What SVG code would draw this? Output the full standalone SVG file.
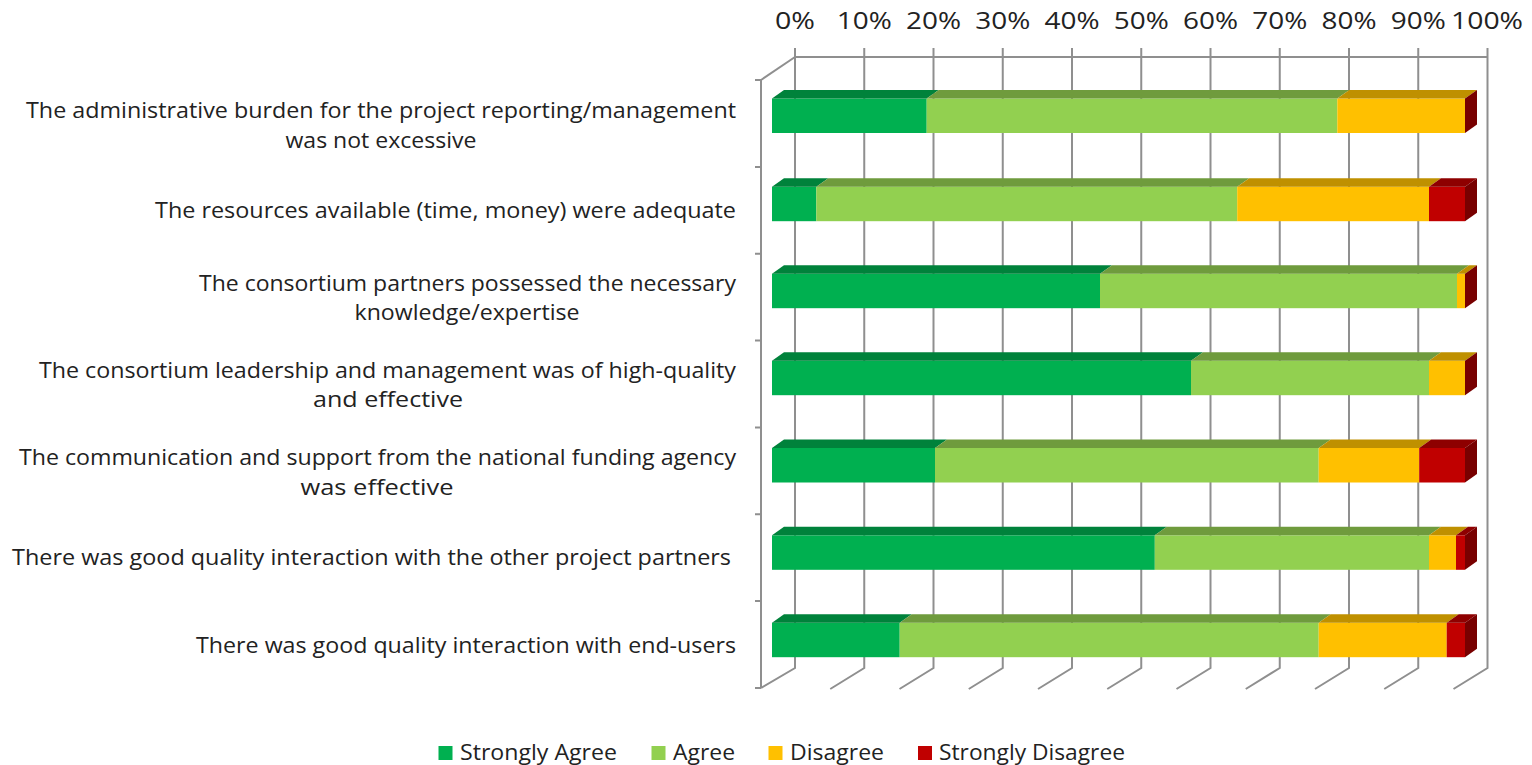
<svg xmlns="http://www.w3.org/2000/svg" width="1532" height="765" viewBox="0 0 1532 765">
<style>
.grid{stroke:#8f8f8f;stroke-width:2;fill:none}
.lbl{font-family:"Open Sans","Liberation Sans",sans-serif;font-size:21px;fill:#222}
.ax{font-family:"Open Sans","Liberation Sans",sans-serif;font-size:23px;fill:#222;text-anchor:middle}
.sa{fill:#00B050}.sat{fill:#00823B}
.ag{fill:#92D050}.agt{fill:#6F9B3D}
.di{fill:#FFC000}.dit{fill:#BF9000}
.sd{fill:#C00000}.sdt{fill:#8E0000}.sds{fill:#780000}
</style>
<rect width="1532" height="765" fill="#fff"/>
<g id="axes" class="grid">
<line x1="795" y1="57" x2="1487.5" y2="57"/>
<line x1="795" y1="57" x2="761" y2="80"/>
<line x1="761" y1="80" x2="761" y2="688"/>
<path d="M795 48V668L761 688M864.25 48V668L830.25 689M933.5 48V668L899.5 689M1002.75 48V668L968.75 689M1072 48V668L1038 689M1141.25 48V668L1107.25 689M1210.5 48V668L1176.5 689M1279.75 48V668L1245.75 689M1349 48V668L1315 689M1418.25 48V668L1384.25 689M1487.5 48V668L1453.5 689"/>
<path d="M755 80H761M755 166.9H761M755 253.7H761M755 340.6H761M755 427.4H761M755 514.3H761M755 601.1H761M755 688H761"/>
</g>
<g id="axis-labels">
<text class="ax" x="795" y="29" textLength="40" lengthAdjust="spacingAndGlyphs">0%</text>
<text class="ax" x="864.25" y="29" textLength="55" lengthAdjust="spacingAndGlyphs">10%</text>
<text class="ax" x="933.5" y="29" textLength="55" lengthAdjust="spacingAndGlyphs">20%</text>
<text class="ax" x="1002.75" y="29" textLength="55" lengthAdjust="spacingAndGlyphs">30%</text>
<text class="ax" x="1072" y="29" textLength="55" lengthAdjust="spacingAndGlyphs">40%</text>
<text class="ax" x="1141.25" y="29" textLength="55" lengthAdjust="spacingAndGlyphs">50%</text>
<text class="ax" x="1210.5" y="29" textLength="55" lengthAdjust="spacingAndGlyphs">60%</text>
<text class="ax" x="1279.75" y="29" textLength="55" lengthAdjust="spacingAndGlyphs">70%</text>
<text class="ax" x="1349" y="29" textLength="55" lengthAdjust="spacingAndGlyphs">80%</text>
<text class="ax" x="1418.25" y="29" textLength="55" lengthAdjust="spacingAndGlyphs">90%</text>
<text class="ax" x="1487" y="29" textLength="72" lengthAdjust="spacingAndGlyphs">100%</text>
</g>
<g id="category-labels" class="lbl">
<text x="736" y="117.5" text-anchor="end" textLength="710" lengthAdjust="spacingAndGlyphs">The administrative burden for the project reporting/management</text>
<text x="381" y="147.5" text-anchor="middle" textLength="191" lengthAdjust="spacingAndGlyphs">was not excessive</text>
<text x="736" y="218" text-anchor="end" textLength="581" lengthAdjust="spacingAndGlyphs">The resources available (time, money) were adequate</text>
<text x="736" y="291" text-anchor="end" textLength="537" lengthAdjust="spacingAndGlyphs">The consortium partners possessed the necessary</text>
<text x="467" y="320" text-anchor="middle" textLength="225" lengthAdjust="spacingAndGlyphs">knowledge/expertise</text>
<text x="736" y="378" text-anchor="end" textLength="697" lengthAdjust="spacingAndGlyphs">The consortium leadership and management was of high-quality</text>
<text x="388" y="407" text-anchor="middle" textLength="150" lengthAdjust="spacingAndGlyphs">and effective</text>
<text x="736" y="465" text-anchor="end" textLength="717" lengthAdjust="spacingAndGlyphs">The communication and support from the national funding agency</text>
<text x="377" y="495" text-anchor="middle" textLength="153" lengthAdjust="spacingAndGlyphs">was effective</text>
<text x="731" y="565" text-anchor="end" textLength="719" lengthAdjust="spacingAndGlyphs">There was good quality interaction with the other project partners</text>
<text x="736" y="653" text-anchor="end" textLength="540" lengthAdjust="spacingAndGlyphs">There was good quality interaction with end-users</text>
</g>
<g id="bar1">
<rect class="sa" x="772" y="98.5" width="154.7" height="34.5"/>
<rect class="ag" x="926.7" y="98.5" width="410.6" height="34.5"/>
<rect class="di" x="1337.3" y="98.5" width="127.7" height="34.5"/>
<polygon class="sat" points="772,98.5 926.7,98.5 938.7,90 784,90"/>
<polygon class="agt" points="926.7,98.5 1337.3,98.5 1349.3,90 938.7,90"/>
<polygon class="dit" points="1337.3,98.5 1465,98.5 1477,90 1349.3,90"/>
<polygon class="sds" points="1465,98.5 1477,90 1477,124.5 1465,133"/>
</g>
<g id="bar2">
<rect class="sa" x="772" y="186.7" width="44.3" height="34.5"/>
<rect class="ag" x="816.3" y="186.7" width="420.9" height="34.5"/>
<rect class="di" x="1237.2" y="186.7" width="191.8" height="34.5"/>
<rect class="sd" x="1429" y="186.7" width="36" height="34.5"/>
<polygon class="sat" points="772,186.7 816.3,186.7 828.3,178.2 784,178.2"/>
<polygon class="agt" points="816.3,186.7 1237.2,186.7 1249.2,178.2 828.3,178.2"/>
<polygon class="dit" points="1237.2,186.7 1429,186.7 1441,178.2 1249.2,178.2"/>
<polygon class="sdt" points="1429,186.7 1465,186.7 1477,178.2 1441,178.2"/>
<polygon class="sds" points="1465,186.7 1477,178.2 1477,212.7 1465,221.2"/>
</g>
<g id="bar3">
<rect class="sa" x="772" y="273.7" width="328" height="34.5"/>
<rect class="ag" x="1100" y="273.7" width="357" height="34.5"/>
<rect class="di" x="1457" y="273.7" width="8" height="34.5"/>
<polygon class="sat" points="772,273.7 1100,273.7 1112,265.2 784,265.2"/>
<polygon class="agt" points="1100,273.7 1457,273.7 1469,265.2 1112,265.2"/>
<polygon class="dit" points="1457,273.7 1465,273.7 1477,265.2 1469,265.2"/>
<polygon class="sds" points="1465,273.7 1477,265.2 1477,299.7 1465,308.2"/>
</g>
<g id="bar4">
<rect class="sa" x="772" y="360.7" width="419" height="34.5"/>
<rect class="ag" x="1191" y="360.7" width="238" height="34.5"/>
<rect class="di" x="1429" y="360.7" width="36" height="34.5"/>
<polygon class="sat" points="772,360.7 1191,360.7 1203,352.2 784,352.2"/>
<polygon class="agt" points="1191,360.7 1429,360.7 1441,352.2 1203,352.2"/>
<polygon class="dit" points="1429,360.7 1465,360.7 1477,352.2 1441,352.2"/>
<polygon class="sds" points="1465,360.7 1477,352.2 1477,386.7 1465,395.2"/>
</g>
<g id="bar5">
<rect class="sa" x="772" y="448" width="163" height="34.5"/>
<rect class="ag" x="935" y="448" width="383.7" height="34.5"/>
<rect class="di" x="1318.7" y="448" width="100.5" height="34.5"/>
<rect class="sd" x="1419.2" y="448" width="45.8" height="34.5"/>
<polygon class="sat" points="772,448 935,448 947,439.5 784,439.5"/>
<polygon class="agt" points="935,448 1318.7,448 1330.7,439.5 947,439.5"/>
<polygon class="dit" points="1318.7,448 1419.2,448 1431.2,439.5 1330.7,439.5"/>
<polygon class="sdt" points="1419.2,448 1465,448 1477,439.5 1431.2,439.5"/>
<polygon class="sds" points="1465,448 1477,439.5 1477,474 1465,482.5"/>
</g>
<g id="bar6">
<rect class="sa" x="772" y="535.3" width="382.8" height="34.5"/>
<rect class="ag" x="1154.8" y="535.3" width="274.2" height="34.5"/>
<rect class="di" x="1429" y="535.3" width="27" height="34.5"/>
<rect class="sd" x="1456" y="535.3" width="9" height="34.5"/>
<polygon class="sat" points="772,535.3 1154.8,535.3 1166.8,526.8 784,526.8"/>
<polygon class="agt" points="1154.8,535.3 1429,535.3 1441,526.8 1166.8,526.8"/>
<polygon class="dit" points="1429,535.3 1456,535.3 1468,526.8 1441,526.8"/>
<polygon class="sdt" points="1456,535.3 1465,535.3 1477,526.8 1468,526.8"/>
<polygon class="sds" points="1465,535.3 1477,526.8 1477,561.3 1465,569.8"/>
</g>
<g id="bar7">
<rect class="sa" x="772" y="622.7" width="127.7" height="34.5"/>
<rect class="ag" x="899.7" y="622.7" width="419" height="34.5"/>
<rect class="di" x="1318.7" y="622.7" width="128" height="34.5"/>
<rect class="sd" x="1446.7" y="622.7" width="18.3" height="34.5"/>
<polygon class="sat" points="772,622.7 899.7,622.7 911.7,614.2 784,614.2"/>
<polygon class="agt" points="899.7,622.7 1318.7,622.7 1330.7,614.2 911.7,614.2"/>
<polygon class="dit" points="1318.7,622.7 1446.7,622.7 1458.7,614.2 1330.7,614.2"/>
<polygon class="sdt" points="1446.7,622.7 1465,622.7 1477,614.2 1458.7,614.2"/>
<polygon class="sds" points="1465,622.7 1477,614.2 1477,648.7 1465,657.2"/>
</g>
<g id="legend" class="lbl">
<rect class="sa" x="438.5" y="746" width="14" height="14"/>
<text x="460" y="760" textLength="157" lengthAdjust="spacingAndGlyphs">Strongly Agree</text>
<rect class="ag" x="651.5" y="746" width="14" height="14"/>
<text x="673" y="760" textLength="62" lengthAdjust="spacingAndGlyphs">Agree</text>
<rect class="di" x="768.5" y="746" width="14" height="14"/>
<text x="790" y="760" textLength="94" lengthAdjust="spacingAndGlyphs">Disagree</text>
<rect class="sd" x="918" y="746" width="14" height="14"/>
<text x="939" y="760" textLength="186" lengthAdjust="spacingAndGlyphs">Strongly Disagree</text>
</g>
</svg>
